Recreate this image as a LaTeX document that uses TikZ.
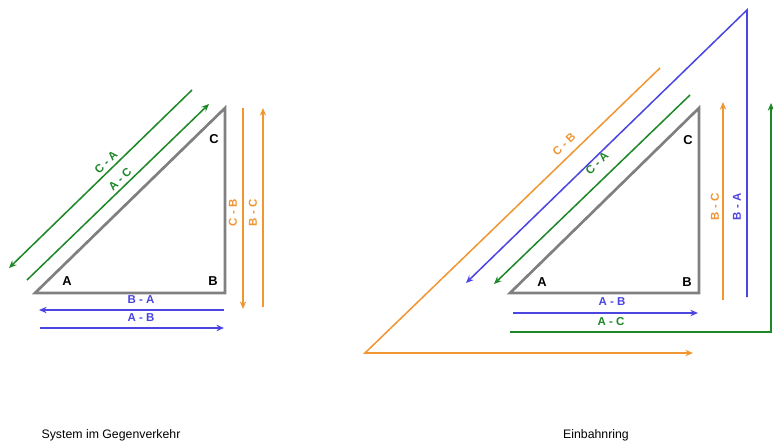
\documentclass[tikz,border=0pt]{standalone}
\usepackage{fontspec}
\setmainfont{Liberation Sans}
\usepackage{tikz}
\usetikzlibrary{arrows.meta}
\definecolor{trigray}{RGB}{128,128,128}
\definecolor{mygreen}{RGB}{30,135,40}
\definecolor{myblue}{RGB}{75,70,225}
\definecolor{myorange}{RGB}{240,150,50}
\tikzset{
  triside/.style={line width=2.3pt, color=trigray, line join=miter},
  corner/.style={font=\bfseries\fontsize{11}{11}\selectfont, inner sep=0pt},
  route/.style={-{Stealth[length=6.5pt,width=5.5pt]}, line width=1.3pt},
  routelab/.style={font=\bfseries\fontsize{9.8}{9.8}\selectfont, inner sep=0pt},
  caption/.style={font=\fontsize{10.5}{10.5}\selectfont, inner sep=0pt}
}
\begin{document}
\begin{tikzpicture}[x=0.03cm, y=-0.03cm]
  \useasboundingbox (0,0) rectangle (773,444);

  % System im Gegenverkehr: triangle
  \coordinate (lA) at (35,293);
  \coordinate (lB) at (225,293);
  \coordinate (lC) at (225,108);
  \draw[triside] (lA) -- (lB) -- (lC) -- cycle;
  \node[corner] (lAl) at (67,281) {A};
  \node[corner] (lBl) at (213,281) {B};
  \node[corner] (lCl) at (214,139) {C};

  % A <-> C, green
  \coordinate (gCA1) at (192,90);
  \coordinate (gCA2) at (9,268);
  \coordinate (gAC1) at (27,280);
  \coordinate (gAC2) at (209,104);
  \draw[route, mygreen] (gCA1) -- (gCA2);
  \draw[route, mygreen] (gAC1) -- (gAC2);
  \node[routelab, mygreen, rotate=44] (lCA) at (106,162) {C - A};
  \node[routelab, mygreen, rotate=44] (lAC) at (120,179) {A - C};

  % B <-> C, orange
  \coordinate (oCB1) at (243,108);
  \coordinate (oCB2) at (243,309);
  \coordinate (oBC1) at (263,307);
  \coordinate (oBC2) at (263,108);
  \draw[route, myorange] (oCB1) -- (oCB2);
  \draw[route, myorange] (oBC1) -- (oBC2);
  \node[routelab, myorange, rotate=90] (lCB) at (233,213) {C - B};
  \node[routelab, myorange, rotate=90] (lBC) at (253,213) {B - C};

  % A <-> B, blue
  \coordinate (bBA1) at (224,310);
  \coordinate (bBA2) at (39,310);
  \coordinate (bAB1) at (40,328);
  \coordinate (bAB2) at (224,328);
  \draw[route, myblue] (bBA1) -- (bBA2);
  \draw[route, myblue] (bAB1) -- (bAB2);
  \node[routelab, myblue] (lBA) at (141,300) {B - A};
  \node[routelab, myblue] (lAB) at (141,318) {A - B};

  % Einbahnring: triangle
  \coordinate (rA) at (510,293);
  \coordinate (rB) at (699,293);
  \coordinate (rC) at (699,108);
  \draw[triside] (rA) -- (rB) -- (rC) -- cycle;
  \node[corner] (rAl) at (542,282) {A};
  \node[corner] (rBl) at (687,282) {B};
  \node[corner] (rCl) at (688,140) {C};

  % A -> B, blue
  \coordinate (rAB1) at (513,313);
  \coordinate (rAB2) at (698,313);
  \draw[route, myblue] (rAB1) -- (rAB2);
  \node[routelab, myblue] (rlAB) at (612,302) {A - B};

  % A -> C, green, round the outside
  \coordinate (rAC1) at (510,332);
  \coordinate (rACk) at (771,332);
  \coordinate (rAC2) at (771,103);
  \draw[route, mygreen] (rAC1) -- (rACk) -- (rAC2);
  \node[routelab, mygreen] (rlAC) at (611,322) {A - C};

  % C -> A, green
  \coordinate (rCA1) at (690,95);
  \coordinate (rCA2) at (494,284);
  \draw[route, mygreen] (rCA1) -- (rCA2);
  \node[routelab, mygreen, rotate=44] (rlCA) at (597,163) {C - A};

  % B -> C, orange
  \coordinate (rBC1) at (723,300);
  \coordinate (rBC2) at (723,102);
  \draw[route, myorange] (rBC1) -- (rBC2);
  \node[routelab, myorange, rotate=90] (rlBC) at (715,207) {B - C};

  % B -> A, blue, round the outside
  \coordinate (rBA1) at (747,297);
  \coordinate (rBAk) at (747,10);
  \coordinate (rBA2) at (466,283);
  \draw[route, myblue] (rBA1) -- (rBAk) -- (rBA2);
  \node[routelab, myblue, rotate=90] (rlBA) at (737,207) {B - A};

  % C -> B, orange, round the outside
  \coordinate (rCB1) at (660,68);
  \coordinate (rCBk) at (365,353);
  \coordinate (rCB2) at (693,353);
  \draw[route, myorange] (rCB1) -- (rCBk) -- (rCB2);
  \node[routelab, myorange, rotate=44] (rlCB) at (564,144) {C - B};

  % captions
  \node[caption] (capl) at (111,435) {System im Gegenverkehr};
  \node[caption] (capr) at (596,435) {Einbahnring};
\end{tikzpicture}
\end{document}
